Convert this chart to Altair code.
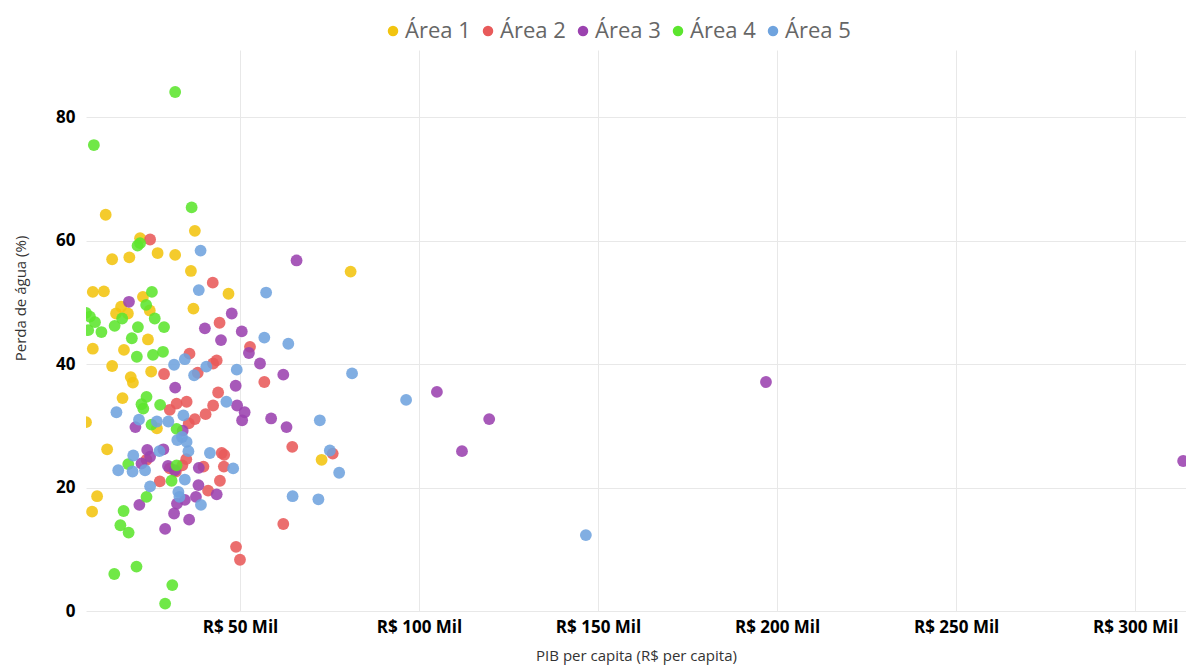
import altair as alt
import pandas as pd

areas = ["Área 1", "Área 2", "Área 3", "Área 4", "Área 5"]
colors = ["#F2C40F", "#E85A5A", "#9B42AF", "#5CE52E", "#6FA3DE"]

# PIB per capita (R$ mil) and Perda de água (%) per area
a1_pib = [7.0, 8.7, 10.1, 8.9, 8.9, 12.0, 12.5, 12.9, 14.3, 14.3, 15.4, 16.8, 18.7, 17.6, 17.2, 19.1,
          19.5, 20.1, 22.1, 22.9, 24.3, 24.8, 25.2, 26.8, 27.0, 31.9, 36.3, 37.0, 37.4, 46.8, 72.8, 80.9]
a1_perda = [30.6, 16.1, 18.6, 42.5, 51.7, 51.8, 64.2, 26.2, 39.7, 57.0, 48.2, 49.3, 48.2, 42.3, 34.5, 57.3,
            37.9, 37.0, 60.4, 50.9, 44.0, 48.7, 38.8, 29.6, 58.0, 57.7, 55.1, 49.0, 61.6, 51.4, 24.5, 55.0]

a2_pib = [24.9, 42.4, 44.3, 52.8, 35.9, 28.8, 38.2, 42.5, 43.5, 56.8, 43.9, 42.5, 40.4, 37.4, 35.7, 32.3,
          35.1, 30.4, 35.0, 33.9, 44.9, 45.6, 45.5, 39.8, 44.4, 41.1, 27.6, 30.4, 32.1, 64.6, 75.9, 62.1,
          48.9, 50.0, 23.9]
a2_perda = [60.2, 53.2, 46.7, 42.8, 41.7, 38.4, 38.6, 40.1, 40.6, 37.1, 35.4, 33.3, 31.9, 31.1, 30.4, 33.6,
            33.9, 32.6, 24.6, 23.6, 25.6, 25.3, 23.4, 23.4, 21.1, 19.5, 21.0, 23.1, 22.6, 26.6, 25.5, 14.1,
            10.4, 8.3, 24.5]

a3_pib = [19.0, 31.9, 47.7, 40.2, 50.5, 44.7, 52.5, 55.6, 62.1, 65.8, 48.8, 49.2, 51.3, 50.6, 58.7, 63.0,
          34.0, 20.8, 24.1, 28.6, 22.5, 24.9, 29.9, 31.8, 38.5, 38.4, 43.5, 37.7, 34.6, 32.4, 21.9, 31.6,
          35.8, 29.1, 105.0, 112.0, 119.6, 196.9, 313.4]
a3_perda = [50.1, 36.2, 48.2, 45.8, 45.3, 43.9, 41.8, 40.1, 38.3, 56.8, 36.5, 33.3, 32.2, 30.9, 31.2, 29.8,
            29.2, 29.8, 26.1, 26.2, 23.9, 25.0, 23.5, 22.8, 23.2, 20.4, 18.9, 18.5, 18.0, 17.4, 17.2, 15.8,
            14.8, 13.3, 35.5, 25.9, 31.1, 37.1, 24.3]

a4_pib = [31.9, 9.2, 36.5, 22.1, 21.4, 25.4, 23.8, 7.0, 8.1, 7.6, 9.5, 11.3, 15.0, 17.1, 26.2, 21.5,
          28.8, 19.8, 21.2, 25.7, 28.5, 23.9, 22.5, 23.0, 27.7, 25.3, 32.3, 18.8, 32.3, 30.9, 23.9, 17.5,
          16.6, 18.9, 21.1, 14.9, 31.1, 29.1]
a4_perda = [84.1, 75.5, 65.4, 59.6, 59.2, 51.7, 49.6, 48.3, 47.7, 45.5, 46.8, 45.2, 46.2, 47.4, 47.4, 46.0,
            46.0, 44.2, 41.2, 41.5, 42.0, 34.7, 33.5, 32.8, 33.4, 30.2, 29.5, 23.8, 23.6, 21.1, 18.5, 16.2,
            13.9, 12.7, 7.2, 6.0, 4.2, 1.2]

a5_pib = [39.0, 38.5, 57.3, 56.8, 63.5, 49.1, 81.3, 31.6, 34.6, 37.2, 40.6, 46.2, 34.2, 30.0, 26.8, 21.8,
          15.5, 32.5, 35.1, 33.8, 35.6, 27.5, 20.2, 41.6, 48.1, 16.0, 20.0, 23.5, 24.9, 34.6, 32.8, 33.1,
          39.1, 72.3, 75.1, 77.7, 64.7, 71.9, 96.4, 146.6]
a5_perda = [58.4, 52.0, 51.6, 44.3, 43.3, 39.1, 38.5, 39.9, 40.8, 38.2, 39.6, 33.9, 31.7, 30.7, 30.7, 31.0,
            32.2, 27.7, 27.4, 28.2, 25.9, 25.9, 25.2, 25.6, 23.1, 22.8, 22.6, 22.8, 20.2, 21.3, 19.3, 18.5,
            17.2, 30.9, 26.0, 22.4, 18.6, 18.1, 34.2, 12.3]

x_ticks = [50, 100, 150, 200, 250, 300]
y_ticks = [0, 20, 40, 60, 80]

rows = []
for name, xs, ys in zip(areas, [a1_pib, a2_pib, a3_pib, a4_pib, a5_pib],
                        [a1_perda, a2_perda, a3_perda, a4_perda, a5_perda]):
    for xv, yv in zip(xs, ys):
        rows.append({"Área": name, "PIB": xv, "Perda": yv})
df = pd.DataFrame(rows)

FONT = "Segoe UI, Open Sans, sans-serif"

chart = alt.Chart(df).mark_circle(size=140, opacity=0.88, clip=True).encode(
    x=alt.X("PIB:Q",
            scale=alt.Scale(domain=[7, 314.2], nice=False, zero=False),
            axis=alt.Axis(values=x_ticks, labelExpr="'R$ ' + datum.value + ' Mil'",
                          title="PIB per capita (R$ per capita)",
                          titleY=44, titleBaseline="middle",
                          labelPadding=8, labelFontWeight="bold", labelFontSize=17,
                          labelColor="#000000", labelFont=FONT,
                          titleFont=FONT, titleFontSize=15, titleFontWeight="normal",
                          titleColor="#333333",
                          domain=False, ticks=False, grid=True, gridColor="#E8E8E8")),
    y=alt.Y("Perda:Q",
            scale=alt.Scale(domain=[0, 90.9], nice=False),
            axis=alt.Axis(values=y_ticks, title="Perda de água (%)",
                          titleX=-66, titleY=248, titleBaseline="middle",
                          labelPadding=11, labelFontWeight="bold", labelFontSize=17,
                          labelColor="#000000", labelFont=FONT,
                          titleFont=FONT, titleFontSize=15, titleFontWeight="normal",
                          titleColor="#333333",
                          domain=False, ticks=False, grid=True, gridColor="#E8E8E8")),
    color=alt.Color("Área:N",
                    scale=alt.Scale(domain=areas, range=colors),
                    legend=alt.Legend(title=None, orient="none", direction="horizontal",
                                      legendX=296, legendY=-30, padding=0,
                                      symbolType="circle", symbolSize=110, symbolOpacity=1,
                                      labelFont=FONT, labelFontSize=22, labelColor="#666666",
                                      labelOffset=1, columnPadding=6)),
).properties(
    width=1100, height=561,
    autosize=alt.AutoSizeParams(type="none"),
    padding={"left": 78, "top": 42, "right": 0, "bottom": 54},
).configure_view(stroke=None)

chart.save("out.html", embed_options={"renderer": "svg", "actions": False})
